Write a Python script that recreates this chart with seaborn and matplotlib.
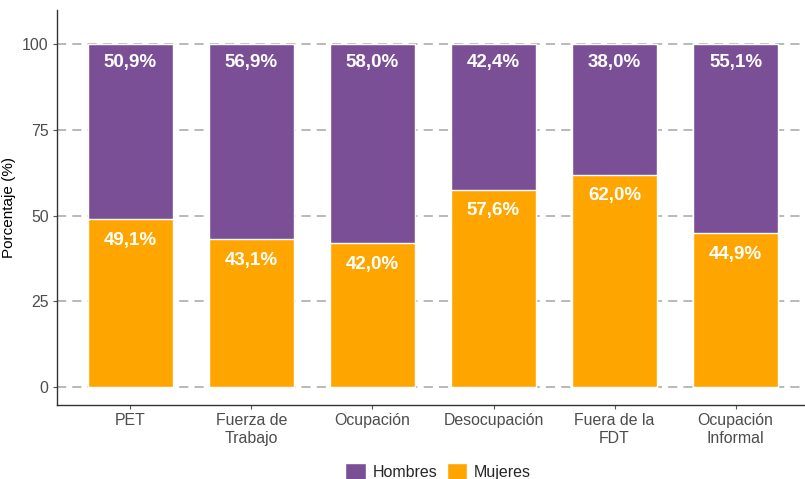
import matplotlib
matplotlib.use("Agg")
import matplotlib.pyplot as plt
import seaborn as sns
import pandas as pd
from matplotlib.patches import Patch

# Datos
categorias = ["PET", "Fuerza de\nTrabajo", "Ocupación", "Desocupación", "Fuera de la\nFDT", "Ocupación\nInformal"]
hombres = [50.9, 56.9, 58.0, 42.4, 38.0, 55.1]
mujeres = [49.1, 43.1, 42.0, 57.6, 62.0, 44.9]

color_hombres = "#7A4F95"
color_mujeres = "#FFA500"

df = pd.DataFrame({"categoria": categorias, "Hombres": hombres, "Mujeres": mujeres})
df["total"] = df["Hombres"] + df["Mujeres"]

sns.set_style("white")
plt.rcParams["font.family"] = ["Liberation Sans", "DejaVu Sans"]

fig = plt.figure(figsize=(8.05, 4.79), dpi=100)
ax = fig.add_axes([0.0708, 0.1545, 0.9292, 0.8245])

# Barras apiladas: total (hombres arriba) y mujeres abajo
sns.barplot(data=df, x="categoria", y="total", color=color_hombres, width=0.7,
            saturation=1, ax=ax, zorder=2)
sns.barplot(data=df, x="categoria", y="Mujeres", color=color_mujeres, width=0.7,
            saturation=1, ax=ax, zorder=3)

# Etiquetas de porcentaje
for i, row in df.iterrows():
    ax.text(i, row["total"] - 5.3, f"{row['Hombres']:.1f}%".replace(".", ","),
            ha="center", va="center", color="white", fontsize=13.5, fontweight="bold", zorder=4)
    ax.text(i, row["Mujeres"] - 6.2, f"{row['Mujeres']:.1f}%".replace(".", ","),
            ha="center", va="center", color="white", fontsize=13.5, fontweight="bold", zorder=4)

ax.set_xlim(-0.607, 5.574)
ax.set_ylim(-5.2, 110)
ax.set_yticks([0, 25, 50, 75, 100])
ax.yaxis.grid(True, linestyle=(0, (6, 4)), color="#a6a6a6", linewidth=1.1, zorder=0)
ax.set_axisbelow(True)

for side in ["top", "right"]:
    ax.spines[side].set_visible(False)
for side in ["left", "bottom"]:
    ax.spines[side].set_color("#333333")
    ax.spines[side].set_linewidth(1.0)

ax.tick_params(axis="both", which="both", length=3, color="#555555", labelsize=11.4,
               labelcolor="#4d4d4d", left=True, bottom=True, pad=3)
ax.set_xlabel("")
ax.set_ylabel("Porcentaje (%)", fontsize=11, color="black", labelpad=4)

handles = [Patch(facecolor=color_hombres, label="Hombres"),
           Patch(facecolor=color_mujeres, label="Mujeres")]
fig.legend(handles=handles, loc="lower center", bbox_to_anchor=(0.544, -0.032), ncol=2,
           frameon=False, fontsize=11.5, handlelength=1.3, handleheight=1.3,
           columnspacing=0.6, handletextpad=0.4)

fig.savefig("out.png", dpi=100)
